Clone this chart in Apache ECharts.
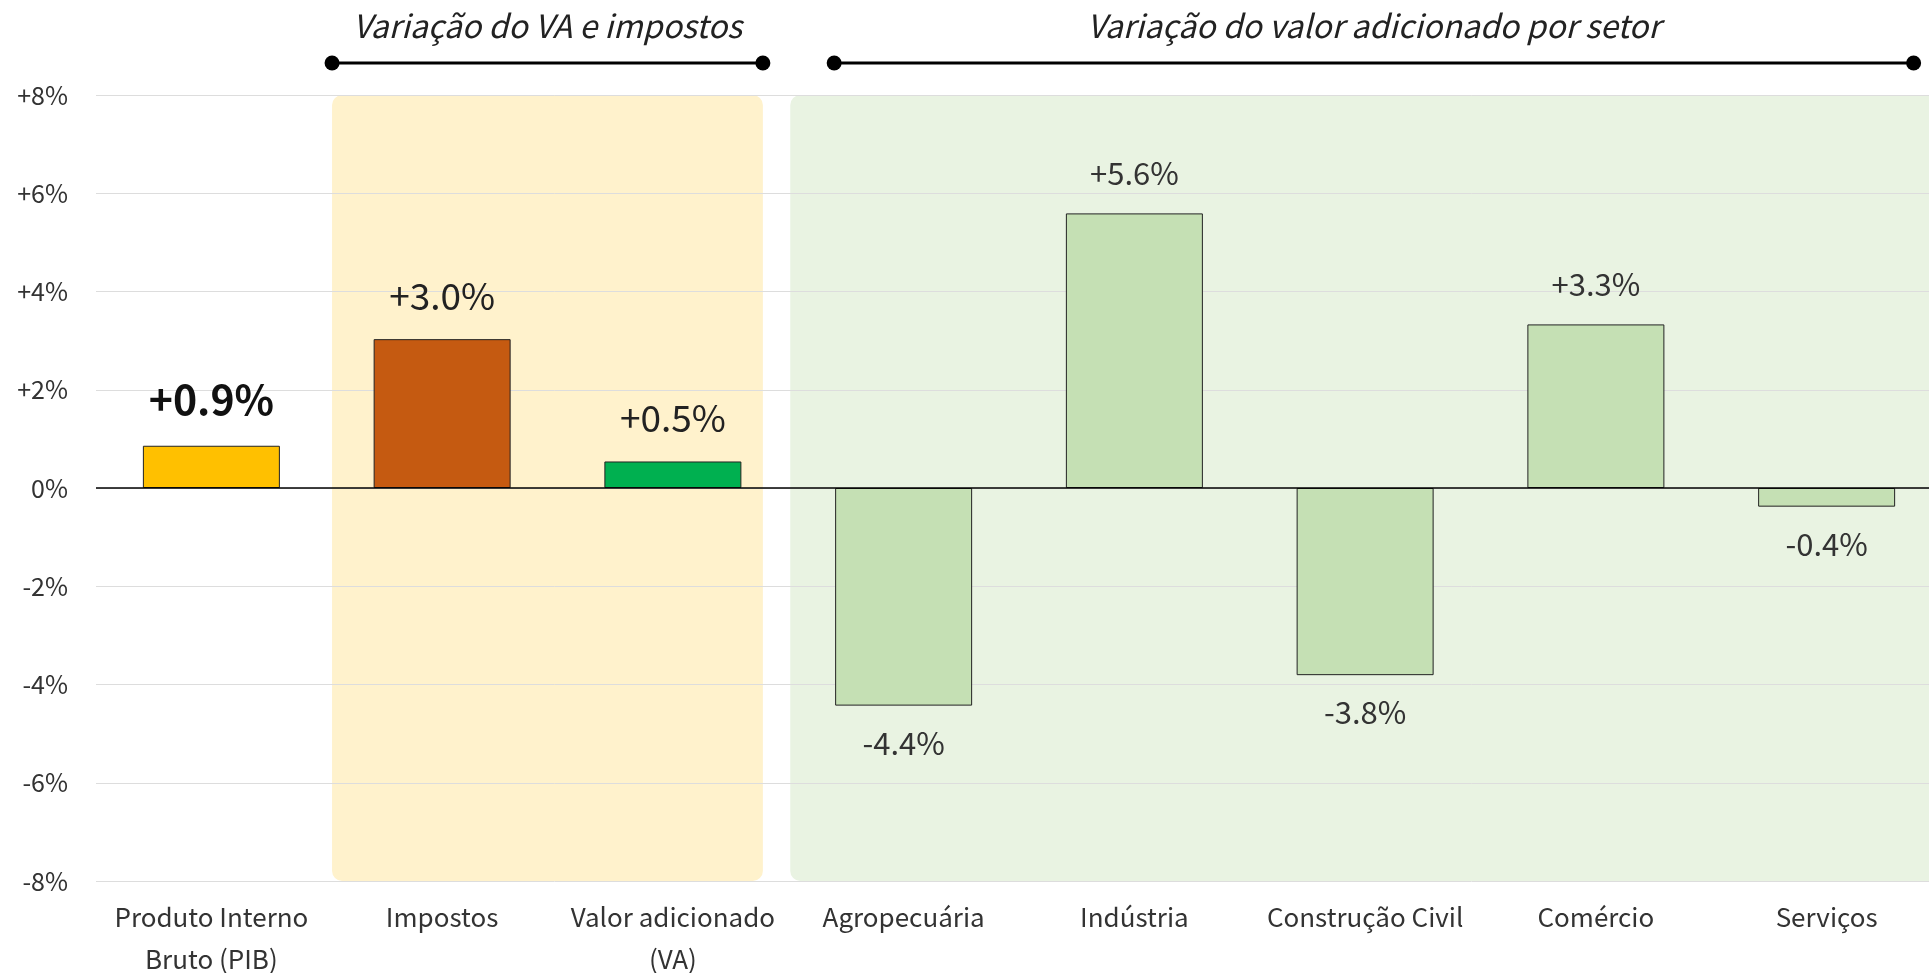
<!DOCTYPE html>
<html>
<head>
<meta charset="utf-8">
<title>PIB</title>
<script src="https://cdn.jsdelivr.net/npm/echarts@6/dist/echarts.min.js"></script>
<style>
  html, body { margin: 0; padding: 0; background: #fff; }
  #main { width: 1929px; height: 973px; }
</style>
</head>
<body>
<div id="main"></div>
<script>
var categories = ['Produto Interno\nBruto (PIB)', 'Impostos', 'Valor adicionado\n(VA)', 'Agropecuária', 'Indústria', 'Construção Civil', 'Comércio', 'Serviços'];
var values = [0.86, 3.03, 0.54, -4.43, 5.59, -3.81, 3.33, -0.38];
var barColors = ['#FFC000', '#C55A11', '#00B050', '#C5E0B4', '#C5E0B4', '#C5E0B4', '#C5E0B4', '#C5E0B4'];
var yMin = -8, yMax = 8, yStep = 2;
var groupTitles = ['Variação do VA e impostos', 'Variação do valor adicionado por setor'];

var font = '"Noto Sans CJK JP", "Noto Sans", sans-serif';

function pct(v) {
    var s = v.toFixed(1) + '%';
    return v > 0 ? '+' + s : s;
}

var barData = values.map(function (v, i) {
    var lbl = {
        show: true,
        position: v >= 0 ? 'top' : 'bottom',
        distance: v >= 0 ? 25 : 22,
        fontSize: 31,
        color: '#333'
    };
    if (i === 0) {
        lbl.fontSize = 41;
        lbl.fontWeight = 'bold';
        lbl.color = '#111';
        lbl.distance = 26;
    } else if (i < 3) {
        lbl.fontSize = 37;
        lbl.color = '#222';
        lbl.distance = 25;
    }
    return { value: v, itemStyle: { color: barColors[i] }, label: lbl };
});

var chart = echarts.init(document.getElementById('main'));

chart.setOption({
    animation: false,
    textStyle: { fontFamily: font },
    grid: { left: 96, top: 95, width: 1846, height: 786, containLabel: false, outerBoundsMode: 'none' },
    xAxis: {
        type: 'category',
        data: categories,
        axisLine: { show: false },
        axisTick: { show: false },
        axisLabel: { interval: 0, fontSize: 26, color: '#333', lineHeight: 42, margin: 15, fontFamily: font }
    },
    yAxis: {
        type: 'value',
        min: yMin,
        max: yMax,
        interval: yStep,
        axisLabel: {
            fontSize: 25,
            color: '#333',
            margin: 28,
            fontFamily: font,
            formatter: function (v) { return v > 0 ? '+' + v + '%' : v + '%'; }
        },
        splitLine: { lineStyle: { color: '#DDDDDD', width: 1 } }
    },
    series: [{
        type: 'bar',
        data: barData,
        barWidth: 137,
        itemStyle: { borderColor: '#222', borderWidth: 1 },
        label: { fontFamily: font, formatter: function (p) { return pct(p.value); } },
        markLine: {
            silent: true,
            symbol: 'none',
            label: { show: false },
            lineStyle: { color: '#000', type: 'solid', width: 1.5 },
            data: [{ yAxis: 0 }]
        }
    }]
});

// backgrounds, brackets and group titles placed from the axes
function cx(i) { return chart.convertToPixel({ xAxisIndex: 0 }, categories[i]); }
var bw = cx(1) - cx(0);
var yTop = chart.convertToPixel({ yAxisIndex: 0 }, yMax);
var yBot = chart.convertToPixel({ yAxisIndex: 0 }, yMin);

var g1 = [cx(1) - 0.477 * bw, cx(2) + 0.39 * bw];
var g2 = [cx(3) - 0.5 * bw + 2, cx(7) + 0.5 * bw + 20];
var b2 = [cx(3) - 0.301 * bw, cx(7) + 0.377 * bw];
var lineY = yTop - 32;
var titleY = yTop - 69;

function bracket(x0, x1) {
    return [
        { type: 'line', shape: { x1: x0, y1: lineY, x2: x1, y2: lineY }, style: { stroke: '#000', lineWidth: 3 }, z: 10 },
        { type: 'circle', shape: { cx: x0, cy: lineY, r: 7.5 }, style: { fill: '#000' }, z: 10 },
        { type: 'circle', shape: { cx: x1, cy: lineY, r: 7.5 }, style: { fill: '#000' }, z: 10 }
    ];
}

function title(txt, x) {
    return {
        type: 'text', x: x, y: titleY, z: 10,
        style: {
            text: txt, fontSize: 32, fontStyle: 'italic', fontFamily: font,
            fill: '#222', align: 'center', verticalAlign: 'middle'
        }
    };
}

var elements = [
    { type: 'rect', shape: { x: g1[0], y: yTop, width: g1[1] - g1[0], height: yBot - yTop, r: 10 }, style: { fill: '#FFF2CC' }, z: -10 },
    { type: 'rect', shape: { x: g2[0], y: yTop, width: g2[1] - g2[0], height: yBot - yTop, r: 10 }, style: { fill: '#E9F3E2' }, z: -10 },
    title(groupTitles[0], (g1[0] + g1[1]) / 2),
    title(groupTitles[1], (b2[0] + b2[1]) / 2)
].concat(bracket(g1[0], g1[1])).concat(bracket(b2[0], b2[1]));

chart.setOption({ graphic: { elements: elements } });
</script>
</body>
</html>
